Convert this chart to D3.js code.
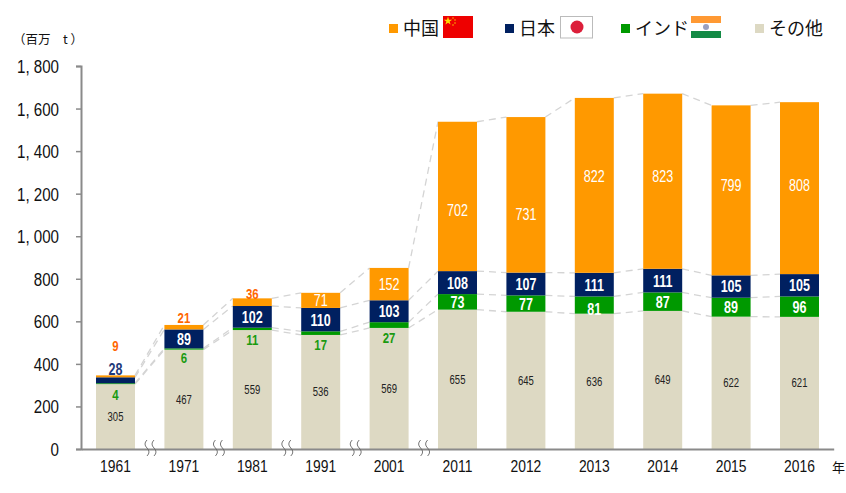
<!DOCTYPE html>
<html>
<head>
<meta charset="utf-8">
<script src="https://cdnjs.cloudflare.com/ajax/libs/d3/7.8.5/d3.min.js"></script>
<style>
  html, body { margin: 0; padding: 0; background: #fff; }
  svg { display: block; }
  text { font-family: "Liberation Sans", sans-serif; }
  .jp { font-family: "Noto Sans CJK JP", sans-serif; }
</style>
</head>
<body>
<div id="chart"></div>
<script>
////////// Data
var years = ["1961", "1971", "1981", "1991", "2001", "2011", "2012", "2013", "2014", "2015", "2016"];
var other = [305, 467, 559, 536, 569, 655, 645, 636, 649, 622, 621];
var india = [4, 6, 11, 17, 27, 73, 77, 81, 87, 89, 96];
var japan = [28, 89, 102, 110, 103, 108, 107, 111, 111, 105, 105];
var china = [9, 21, 36, 71, 152, 702, 731, 822, 823, 799, 808];
var yTicks = [0, 200, 400, 600, 800, 1000, 1200, 1400, 1600, 1800];
var legendNames = ["中国", "日本", "インド", "その他"];

var width = 846, height = 493;
var svg = d3.select("#chart").append("svg").attr("width", width).attr("height", height);

var x = d3.scaleBand().domain(years).range([81.3, 833.7]).paddingInner(0.43).paddingOuter(0.215);
var y = d3.scaleLinear().domain([0, 1800]).range([449, 66]);

// bottom to top
var series = [
  { name: "other", values: other, color: "#ddd9c3" },
  { name: "india", values: india, color: "#009900" },
  { name: "japan", values: japan, color: "#002060" },
  { name: "china", values: china, color: "#ff9900" }
];
var rows = years.map(function(yr, i) {
  return { year: yr, other: other[i], india: india[i], japan: japan[i], china: china[i] };
});
var stacked = d3.stack().keys(series.map(function(s) { return s.name; }))(rows);

// squeeze a text sideways, the reference font is a narrow one
function narrow(sel, factor) {
  sel.each(function() {
    this.setAttribute("textLength", this.getComputedTextLength() * factor);
    this.setAttribute("lengthAdjust", "spacingAndGlyphs");
  });
}

/*
 * Dashed lines between the bars
 */
stacked.forEach(function(layer) {
  for (var i = 0; i < years.length - 1; i++) {
    svg.append("line")
      .attr("x1", x(years[i]) + x.bandwidth())
      .attr("x2", x(years[i + 1]))
      .attr("y1", y(layer[i][1]))
      .attr("y2", y(layer[i + 1][1]))
      .attr("stroke", "#d4d4d4")
      .attr("stroke-width", 1.3)
      .attr("stroke-dasharray", "7,5");
  }
});

/*
 * Bars
 */
stacked.forEach(function(layer, k) {
  svg.selectAll(".bar" + k)
    .data(layer)
    .enter().append("rect")
    .attr("x", function(d) { return x(d.data.year); })
    .attr("y", function(d) { return y(d[1]); })
    .attr("width", x.bandwidth())
    .attr("height", function(d) { return y(d[0]) - y(d[1]); })
    .attr("fill", series[k].color);
});

/*
 * Axes
 */
var yAxis = d3.axisLeft(y).tickValues(yTicks).tickSize(5).tickPadding(17)
  .tickFormat(function(d) { return d3.format(",")(d).replace(",", ", "); });
var gy = svg.append("g").attr("transform", "translate(81,0)").call(yAxis);
gy.selectAll("text").style("font-size", "18px").attr("fill", "#111").attr("dy", "0.36em").call(narrow, 0.84);

var xAxis = d3.axisBottom(x).tickSize(0).tickPadding(11);
var gx = svg.append("g").attr("transform", "translate(0,449)").call(xAxis);
gx.selectAll("text").style("font-size", "16.5px").attr("fill", "#111").call(narrow, 0.84);

[gy, gx].forEach(function(g) {
  g.selectAll("path").attr("stroke", "#8a8a8a").attr("stroke-width", 2);
  g.selectAll("line").attr("stroke", "#8a8a8a").attr("stroke-width", 1.5);
});

// wavy break marks after the first five groups
for (var b = 0; b < 5; b++) {
  var bx = x(years[b]) + x.bandwidth() + 12;
  [0, 7].forEach(function(dx) {
    svg.append("path")
      .attr("d", "M" + (bx + dx) + ",440 q-4,4 0,8 q4,4 0,8")
      .attr("fill", "none")
      .attr("stroke", "#666")
      .attr("stroke-width", 0.9);
  });
}

/*
 * Value labels
 */
// the few labels that do not sit in the middle of their segment (pixels, from that position)
var labelShift = {
  "china": { "1961": -21, "1971": 2, "1981": 4, "2011": 14, "2012": 19, "2013": -9, "2014": -5, "2015": -5, "2016": -3 },
  "india": { "1971": -2, "2013": 4 }
};
function isOutside(name, val, year) {
  return (name === "china" && val < 40) || (name === "india" && val < 30);
}
function labelY(k, d) {
  var name = series[k].name, val = d[1] - d[0], year = d.data.year;
  var mid = y((d[0] + d[1]) / 2);
  var shift = (labelShift[name] && labelShift[name][year]) || 0;
  if (name === "china" && val < 40) return y(d[1]) - 9 + shift;
  if (name === "india" && val < 30) return y(d[0]) + 10 + shift;
  if (name === "japan" && year === "1961") return y(d[1]) - 8;
  return mid + shift;
}
function labelColor(k, d) {
  var name = series[k].name, val = d[1] - d[0], year = d.data.year;
  if (name === "other") return "#222";
  if (name === "china" && val < 40) return "#ff6600";
  if (name === "india" && val < 30) return "#1a9a10";
  if (name === "japan" && year === "1961") return "#1f3a7a";
  return "#fff";
}
stacked.forEach(function(layer, k) {
  var name = series[k].name;
  svg.selectAll(".lab" + k)
    .data(layer)
    .enter().append("text")
    .attr("x", function(d) { return x(d.data.year) + x.bandwidth() / 2; })
    .attr("y", function(d) { return labelY(k, d); })
    .attr("dy", "0.36em")
    .attr("text-anchor", "middle")
    .attr("fill", function(d) { return labelColor(k, d); })
    .style("font-size", function(d) {
      if (k === 0) return "12.5px";
      return isOutside(name, d[1] - d[0], d.data.year) ? "15px" : "16.5px";
    })
    .style("font-weight", function(d) {
      if (name === "other") return "normal";
      if (name === "china" && d[1] - d[0] >= 40) return "normal";
      return "bold";
    })
    .text(function(d) { return d[1] - d[0]; })
    .call(narrow, 0.76);
});

/*
 * Unit texts
 */
svg.append("text").attr("class", "jp").attr("x", 13).attr("y", 44)
  .style("font-size", "12.5px").attr("fill", "#111").text("（百万　t ）");
svg.append("text").attr("class", "jp").attr("x", 832).attr("y", 472)
  .style("font-size", "13px").attr("fill", "#111").text("年");

/*
 * Legend
 */
var legendX = [389, 505, 621, 755];
var legendColors = [series[3].color, series[2].color, series[1].color, series[0].color];
legendNames.forEach(function(name, i) {
  svg.append("rect").attr("x", legendX[i]).attr("y", 24).attr("width", 9).attr("height", 9).attr("fill", legendColors[i]);
  svg.append("text").attr("class", "jp").attr("x", legendX[i] + 14).attr("y", 35)
    .style("font-size", "18px").attr("fill", "#111").text(name);
});

// flags
var cn = svg.append("g").attr("transform", "translate(443,16)");
cn.append("rect").attr("width", 30).attr("height", 22).attr("fill", "#ee0000");
cn.append("path").attr("d", d3.symbol(d3.symbolStar, 22)()).attr("transform", "translate(5,5)").attr("fill", "#ffdd00");
[[10, 2], [12, 4], [12, 7], [10, 9]].forEach(function(p) {
  cn.append("circle").attr("cx", p[0]).attr("cy", p[1]).attr("r", 0.7).attr("fill", "#ffdd00");
});

var jp = svg.append("g").attr("transform", "translate(560.5,16.5)");
jp.append("rect").attr("width", 32).attr("height", 21.5).attr("fill", "#fff").attr("stroke", "#bbb");
jp.append("circle").attr("cx", 16.5).attr("cy", 10.5).attr("r", 6.5).attr("fill", "#dc1f3a");

var ind = svg.append("g").attr("transform", "translate(691,16)");
ind.append("rect").attr("width", 30).attr("height", 7).attr("fill", "#ff9933");
ind.append("rect").attr("y", 7).attr("width", 30).attr("height", 8).attr("fill", "#fff");
ind.append("rect").attr("y", 15).attr("width", 30).attr("height", 7).attr("fill", "#138a45");
ind.append("circle").attr("cx", 15).attr("cy", 11).attr("r", 3).attr("fill", "#9aa0c0");
</script>
</body>
</html>
